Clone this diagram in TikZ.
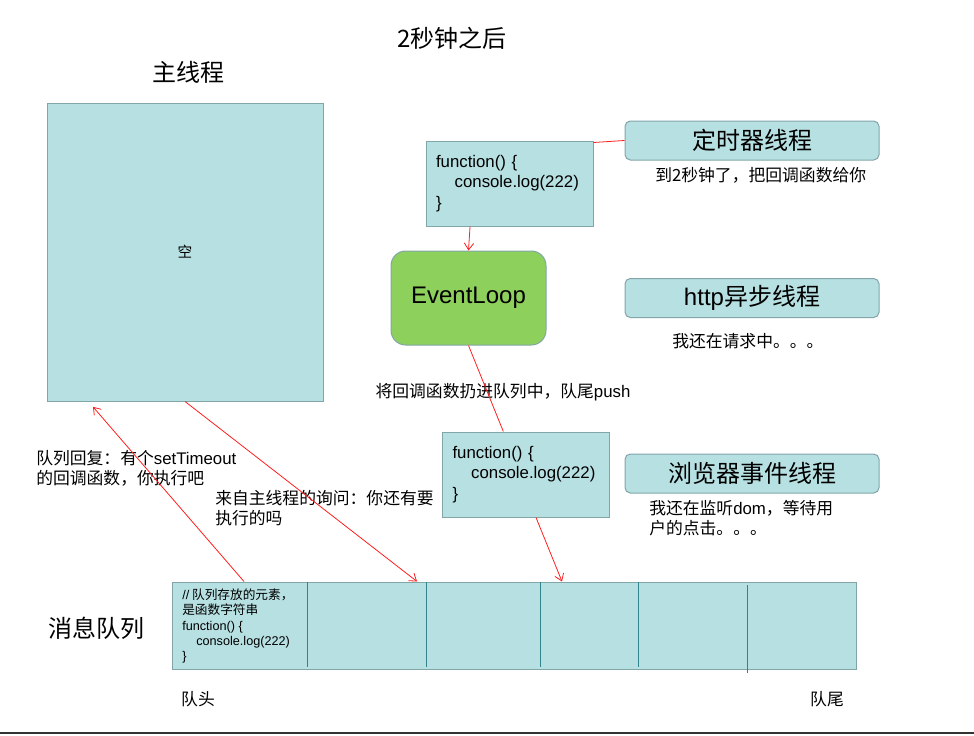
\documentclass[tikz,border=0pt]{standalone}
\usepackage{fontspec}
\setmainfont{Noto Sans CJK SC}
\newfontfamily\lat{Liberation Sans}
\usetikzlibrary{positioning, arrows.meta}
\definecolor{boxfill}{RGB}{183,224,226}
\definecolor{boxline}{RGB}{130,165,168}
\definecolor{cellline}{RGB}{49,132,140}
\definecolor{loopfill}{RGB}{141,208,92}
\definecolor{msgred}{RGB}{255,30,30}
\tikzset{
  x=0.75pt,
  y=-0.75pt,
  >={Straight Barb[length=5pt,width=7pt]},
  panel/.style={draw=boxline, fill=boxfill, line width=0.75pt},
  thread/.style={panel, rounded corners=4pt, minimum width=190.5pt, minimum height=29.25pt, font=\fontsize{18}{20}\selectfont},
  funcbox/.style={panel, minimum width=125.25pt, minimum height=63.75pt, text width=110.25pt, inner xsep=7.5pt, align=left, font=\lat\fontsize{12.6}{15.4}\selectfont},
  note/.style={font=\fontsize{12.6}{15}\selectfont, align=left, inner sep=0pt},
  big/.style={font=\fontsize{18}{20}\selectfont},
  msg/.style={draw=msgred, line width=0.6pt},
}

\begin{document}
\begin{tikzpicture}
      \useasboundingbox (0,0) rectangle (974,735);

      % main thread
      \node[big] (title) at (452,38) {2秒钟之后};
      \node[big] (mainlabel) at (188,72) {主线程};
      \node[panel, minimum width=207pt, minimum height=223.5pt, font=\fontsize{11}{13}\selectfont] (mainbox) at (185,252) {空};

      % callbacks and event loop
      \node[funcbox] (fnA) at (509.5,183.5) {function() \{\\\hspace*{14pt}console.log(222)\\\}};
      \node[draw=boxline, fill=loopfill, line width=0.75pt, rounded corners=11pt, minimum width=116.25pt, minimum height=70.5pt, font=\lat\fontsize{18}{20}\selectfont] (loop) at (468.5,298) {EventLoop};
      \node[funcbox] (fnB) at (526,474.5) {function() \{\\\hspace*{14pt}console.log(222)\\\}};
      \node[note, anchor=center] (pushnote) at (503,392) {将回调函数扔进队列中，队尾{\lat push}};

      % other threads
      \node[thread] (timer) at (752,140.5) {定时器线程};
      \node[note, anchor=west] (timernote) at (655,175) {到2秒钟了，把回调函数给你};
      \node[thread] (http) at (752,298) {{\lat http}异步线程};
      \node[note, anchor=west] (httpnote) at (672,341) {我还在请求中。。。};
      \node[thread] (browser) at (752,473.5) {浏览器事件线程};
      \node[note, anchor=west] (browsernote) at (649,518) {我还在监听{\lat dom}，等待用\\户的点击。。。};

      % message queue
      \node[big] (queuelabel) at (96,628) {消息队列};
      \node[panel, minimum width=513pt, minimum height=65.25pt] (queue) at (514,625.5) {};
      \foreach \cx in {307,426,540,638}
        \draw[cellline, line width=0.75pt] (\cx,582) -- (\cx,667);
      \draw[cellline, line width=0.75pt] (747,585) -- (747,673);
      \node[anchor=west, align=left, inner sep=0pt, font=\fontsize{9.5}{11.3}\selectfont] (queuenote) at (182,626)
        {{\lat //} 队列存放的元素，\\是函数字符串\\{\lat function() \{}\\\hspace*{10.5pt}{\lat console.log(222)}\\{\lat \}}};
      \node[note] (head) at (198,699) {队头};
      \node[note] (tail) at (827,699) {队尾};

      \node[note, anchor=west] (replynote) at (36,468) {队列回复：有个{\lat setTimeout}\\的回调函数，你执行吧};
      \node[note, anchor=west] (asknote) at (215,508) {来自主线程的询问：你还有要\\执行的吗};

      % messages
      \draw[msg] (timer.west) -- ([yshift=-1.5pt]fnA.north east);
      \draw[msg,->] ([xshift=-29.6pt]fnA.south) -- (loop.north);
      \draw[msg] (loop.south) -- ([xshift=-17pt]fnB.north);
      \draw[msg,->] ([xshift=7.5pt]fnB.south) -- ([xshift=36pt]queue.north);
      \draw[msg,->] (mainbox.south) -- ([xshift=-72.75pt]queue.north);
      \draw[msg,->] ([xshift=-202.5pt]queue.north) -- ([xshift=-69pt,yshift=-4pt]mainbox.south);

      \draw[line width=1.5pt, black!80] (0,733) -- (974,733);
    \end{tikzpicture}
\end{document}
